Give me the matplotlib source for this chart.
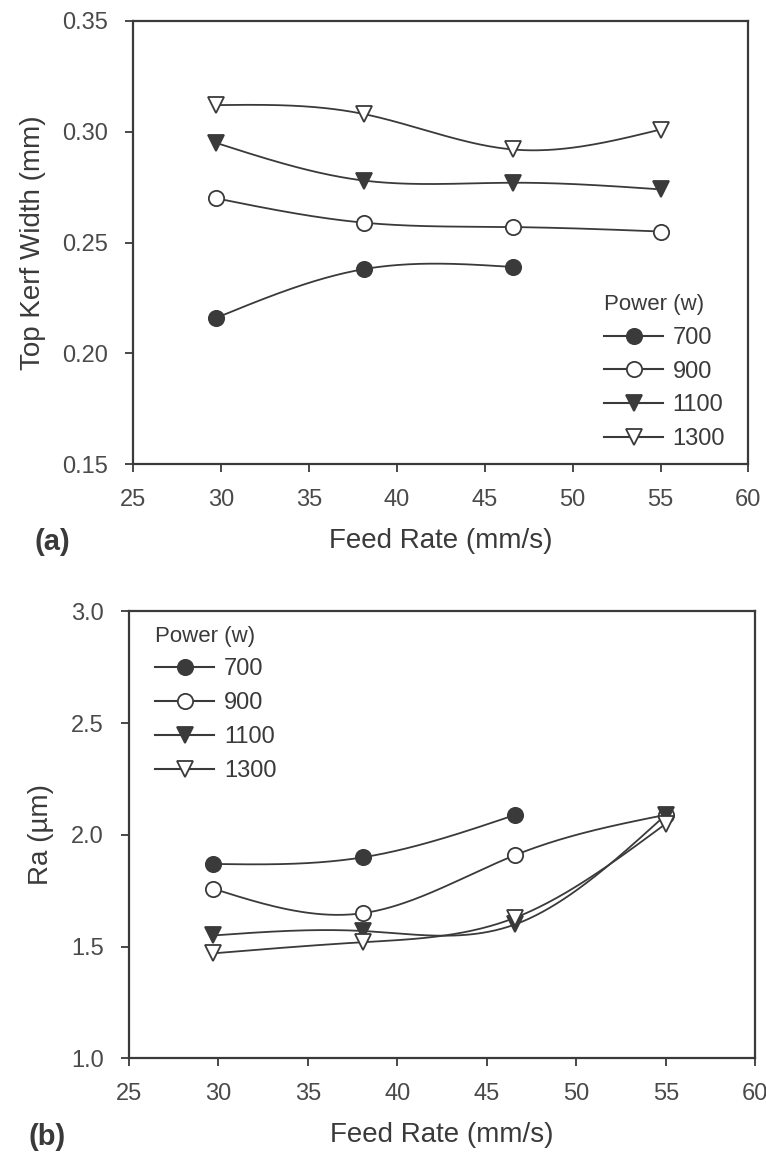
import matplotlib
matplotlib.use("Agg")
import matplotlib.pyplot as plt
import numpy as np

plt.rcParams['font.family'] = ['Liberation Sans', 'DejaVu Sans']

# feed rates (mm/s)
feed = [29.7, 38.1, 46.6, 55.0]
powers = ['700', '900', '1100', '1300']

# top kerf width (mm)
kerf_700 = [0.216, 0.238, 0.239]
kerf_900 = [0.270, 0.259, 0.257, 0.255]
kerf_1100 = [0.295, 0.278, 0.277, 0.274]
kerf_1300 = [0.312, 0.308, 0.292, 0.301]

# surface roughness Ra (um)
ra_700 = [1.87, 1.90, 2.09]
ra_900 = [1.76, 1.65, 1.91, 2.09]
ra_1100 = [1.55, 1.57, 1.60, 2.09]
ra_1300 = [1.47, 1.52, 1.63, 2.05]

ink = '#3a3a3a'
styles = [dict(marker='o', mfc=ink), dict(marker='o', mfc='white'),
          dict(marker='v', mfc=ink), dict(marker='v', mfc='white')]


def spline(x, y, n=200):
    # natural cubic spline, just for drawing the smooth connecting line
    x = np.asarray(x, float)
    y = np.asarray(y, float)
    k = len(x)
    h = np.diff(x)
    A = np.zeros((k, k))
    b = np.zeros(k)
    A[0, 0] = A[-1, -1] = 1
    for i in range(1, k - 1):
        A[i, i - 1] = h[i - 1]
        A[i, i] = 2 * (h[i - 1] + h[i])
        A[i, i + 1] = h[i]
        b[i] = 6 * ((y[i + 1] - y[i]) / h[i] - (y[i] - y[i - 1]) / h[i - 1])
    M = np.linalg.solve(A, b)
    xs = np.linspace(x[0], x[-1], n)
    idx = np.clip(np.searchsorted(x, xs) - 1, 0, k - 2)
    x0, x1 = x[idx], x[idx + 1]
    hh = x1 - x0
    t0 = x1 - xs
    t1 = xs - x0
    ys = (M[idx] * t0 ** 3 + M[idx + 1] * t1 ** 3) / (6 * hh) \
        + (y[idx] / hh - M[idx] * hh / 6) * t0 \
        + (y[idx + 1] / hh - M[idx + 1] * hh / 6) * t1
    return xs, ys


def draw(ax, series, ylim, yticks, fmt, ylabel, tag, legend_loc, legend_anchor):
    for name, ys, st in zip(powers, series, styles):
        xs = feed[:len(ys)]
        sx, sy = spline(xs, ys)
        ax.plot(sx, sy, color=ink, lw=1.3, zorder=2)
        ax.plot(xs, ys, ls='none', marker=st['marker'], ms=11, mfc=st['mfc'],
                mec=ink, mew=1.3, zorder=3)
    handles = [plt.Line2D([], [], color=ink, lw=1.5, marker=st['marker'], ms=11,
                          mfc=st['mfc'], mec=ink, mew=1.3) for st in styles]
    leg = ax.legend(handles, powers, title='Power (w)', loc=legend_loc,
                    bbox_to_anchor=legend_anchor, frameon=False, fontsize=17,
                    title_fontsize=16, handlelength=2.5, handletextpad=0.4,
                    labelspacing=0.5, borderaxespad=0.2)
    leg._legend_box.align = 'left'
    for t in leg.get_texts():
        t.set_color(ink)
    leg.get_title().set_color(ink)

    ax.set_xlim(25, 60)
    ax.set_ylim(*ylim)
    ax.set_xticks(range(25, 61, 5))
    ax.set_yticks(yticks)
    ax.set_yticklabels([fmt % v for v in yticks])
    ax.tick_params(direction='out', length=6, width=1.3, colors=ink, labelsize=17,
                   top=False, right=False, pad=12)
    for lbl in ax.get_xticklabels() + ax.get_yticklabels():
        lbl.set_color('#4a4a4a')
    for s in ax.spines.values():
        s.set_color(ink)
        s.set_linewidth(1.6)
    ax.set_xlabel('Feed Rate (mm/s)', fontsize=20, color=ink, labelpad=12)
    ax.set_ylabel(ylabel, fontsize=20, color=ink, labelpad=12)
    ax.text(-0.16, -0.175, tag, transform=ax.transAxes, fontsize=21,
            fontweight='bold', color=ink, va='center', ha='left')


fig = plt.figure(figsize=(7.66, 11.58), dpi=100)
ax1 = fig.add_axes([0.174, 0.599, 0.803, 0.383])
ax2 = fig.add_axes([0.168, 0.086, 0.818, 0.386])

draw(ax1, [kerf_700, kerf_900, kerf_1100, kerf_1300], (0.15, 0.35),
     [0.15, 0.20, 0.25, 0.30, 0.35], '%.2f', 'Top Kerf Width (mm)', '(a)',
     'lower right', (0.985, 0.0))
draw(ax2, [ra_700, ra_900, ra_1100, ra_1300], (1.0, 3.0),
     [1.0, 1.5, 2.0, 2.5, 3.0], '%.1f', 'Ra (\u00b5m)', '(b)',
     'upper left', (0.02, 1.0))

fig.savefig('out.png', dpi=100)
